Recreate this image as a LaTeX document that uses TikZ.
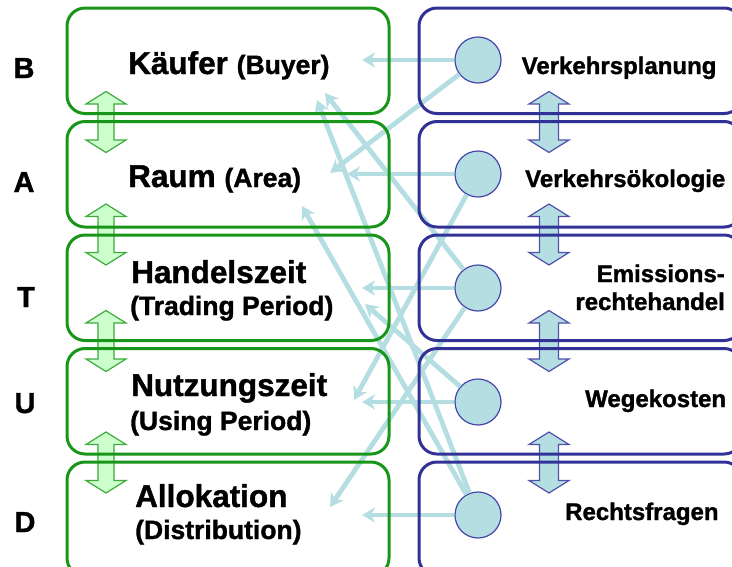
\documentclass[tikz,border=0pt]{standalone}
\usepackage{fontspec}
\setmainfont{Liberation Sans}[BoldFeatures={FakeBold=1.3}]
\usetikzlibrary{arrows.meta}
\definecolor{gline}{RGB}{25,150,25}
\definecolor{bline}{RGB}{50,50,150}
\definecolor{conncol}{RGB}{180,222,226}
\definecolor{gfill}{RGB}{204,255,204}
\definecolor{garrline}{RGB}{60,170,60}
\definecolor{barrline}{RGB}{80,80,170}
\definecolor{circline}{RGB}{70,70,170}
\begin{document}
\begin{tikzpicture}[x=1pt,y=-1pt,
  gbox/.style={draw=gline, line width=3pt, rounded corners=18pt, minimum width=322pt, minimum height=105.5pt, inner sep=0pt},
  bbox/.style={draw=bline, line width=3pt, rounded corners=18pt, minimum width=323pt, minimum height=105.5pt, inner sep=0pt},
  disc/.style={circle, draw=circline, fill=conncol, line width=1.2pt, minimum size=46pt, inner sep=0pt},
  conn/.style={draw=conncol, line width=4.8pt, -{Stealth[length=13pt,width=15pt,inset=4pt]}},
  maintxt/.style={anchor=base west, inner sep=0pt, font=\bfseries\fontsize{31.5}{31.5}\selectfont},
  subtxt/.style={anchor=base west, inner sep=0pt, font=\bfseries\fontsize{26.5}{26.5}\selectfont},
  rtxt/.style={anchor=base west, inner sep=0pt, font=\bfseries\fontsize{24}{24}\selectfont},
  lettxt/.style={anchor=base, inner sep=0pt, font=\bfseries\fontsize{29}{29}\selectfont},
  garrow/.pic={\draw[fill=gfill, draw=garrline, line width=1.2pt]
     (0,-30.5) -- (20,-18) -- (8,-18) -- (8,18) -- (20,18) -- (0,30.5)
     -- (-20,18) -- (-8,18) -- (-8,-18) -- (-20,-18) -- cycle;},
  barrow/.pic={\draw[fill=conncol, draw=barrline, line width=1.2pt]
     (0,-30.5) -- (20,-18) -- (9.5,-18) -- (9.5,18) -- (20,18) -- (0,30.5)
     -- (-20,18) -- (-9.5,18) -- (-9.5,-18) -- (-20,-18) -- cycle;}
]
\useasboundingbox (0,0) rectangle (732,566);
\clip (0,0) rectangle (732,566);

% double block arrows
\pic at (106,122) {garrow};
\pic at (106,234.5) {garrow};
\pic at (106,341) {garrow};
\pic at (106,462.5) {garrow};
\pic at (549,122) {barrow};
\pic at (549,234.5) {barrow};
\pic at (549,341) {barrow};
\pic at (549,462.5) {barrow};

% discipline circles
\node[disc] (c1) at (478,60) {};
\node[disc] (c2) at (478,174) {};
\node[disc] (c3) at (478,288) {};
\node[disc] (c4) at (478,402) {};
\node[disc] (c5) at (478,515) {};

% arrow tips
\coordinate (h1) at (362,60);
\coordinate (h2) at (347,174);
\coordinate (h3) at (362,288);
\coordinate (h4) at (362,402);
\coordinate (h5) at (362,515);
\coordinate (d1) at (330,173);
\coordinate (d2) at (354,400);
\coordinate (d3a) at (325,93);
\coordinate (d3b) at (330,507);
\coordinate (d4) at (365,304);
\coordinate (d5a) at (317,100);
\coordinate (d5b) at (302,206);

% connectors
\draw[conn] (c1) -- (h1);
\draw[conn] (c2) -- (h2);
\draw[conn] (c3) -- (h3);
\draw[conn] (c4) -- (h4);
\draw[conn] (c5) -- (h5);
\draw[conn] (c1) -- (d1);
\draw[conn] (c2) -- (d2);
\draw[conn] (c3) -- (d3a);
\draw[conn] (c3) -- (d3b);
\draw[conn] (c4) -- (d4);
\draw[conn] (c5) -- (d5a);
\draw[conn] (c5) -- (d5b);

% boxes
\node[gbox] (L1) at (228,60.75) {};
\node[gbox] (L2) at (228,174.25) {};
\node[gbox] (L3) at (228,287.75) {};
\node[gbox] (L4) at (228,401.25) {};
\node[gbox, minimum height=114pt] (L5) at (228,519) {};
\node[bbox] (R1) at (580.5,60.75) {};
\node[bbox] (R2) at (580.5,174.25) {};
\node[bbox] (R3) at (580.5,287.75) {};
\node[bbox] (R4) at (580.5,401.25) {};
\node[bbox, minimum height=114pt] (R5) at (580.5,519) {};

% left letters
\node[lettxt] (lB) at (24,78) {B};
\node[lettxt] (lA) at (24,192) {A};
\node[lettxt] (lT) at (26,307) {T};
\node[lettxt] (lU) at (25,413) {U};
\node[lettxt] (lD) at (25,532) {D};

% left texts
\node[maintxt] (tK) at (128,74) {Käufer {\fontsize{26.5}{26.5}\selectfont (Buyer)}};
\node[maintxt] (tR) at (128,187) {Raum {\fontsize{26.5}{26.5}\selectfont (Area)}};
\node[maintxt] (tH) at (131,283) {Handelszeit};
\node[subtxt] (tH2) at (130,315) {(Trading Period)};
\node[maintxt] (tN) at (131,396) {Nutzungszeit};
\node[subtxt] (tN2) at (130,430) {(Using Period)};
\node[maintxt] (tA) at (135,507) {Allokation};
\node[subtxt] (tA2) at (135,539) {(Distribution)};

% right texts
\node[rtxt] (s1) at (521.5,74) {Verkehrsplanung};
\node[rtxt] (s2) at (525,187) {Verkehrsökologie};
\node[rtxt, anchor=base east] (s3) at (725,282) {Emissions-};
\node[rtxt, anchor=base east] (s3b) at (725,310) {rechtehandel};
\node[rtxt] (s4) at (585,407) {Wegekosten};
\node[rtxt] (s5) at (565,520) {Rechtsfragen};
\end{tikzpicture}
\end{document}
